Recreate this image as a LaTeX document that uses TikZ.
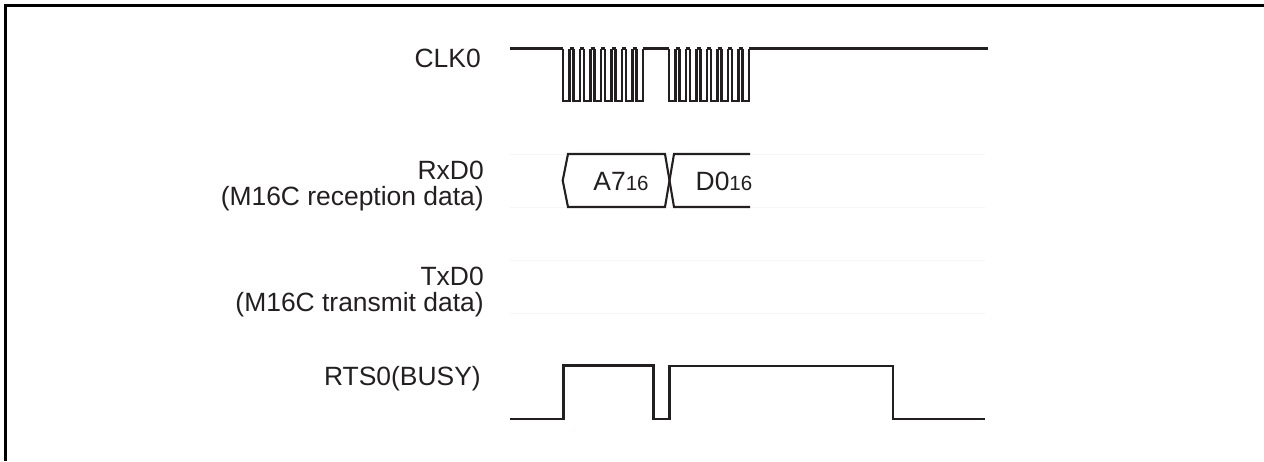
\documentclass[tikz,border=0pt]{standalone}
\usepackage{fontspec}
\setmainfont{Liberation Sans}
\definecolor{ink}{RGB}{35,31,32}
\definecolor{ghost}{RGB}{246,246,246}
\newcommand{\sub}[1]{{\fontsize{14.6}{17}\selectfont #1}}
\tikzset{
  sig/.style={draw=ink,line width=1.5pt,line join=miter},
  ghostline/.style={draw=ghost,line width=0.7pt},
  framel/.style={draw=black,line width=1.8pt},
  lbl/.style={font=\fontsize{18.8}{19}\selectfont,text=ink,align=right,inner sep=0pt},
  val/.style={font=\fontsize{18.8}{19.3}\selectfont,text=ink,inner sep=0pt},
}
\begin{document}
\begin{tikzpicture}[x=0.25mm,y=-0.25mm]
  \useasboundingbox (0,0) rectangle (1264,461);
  \draw[framel] (1264,5.5) -- (5.5,5.5) -- (5.5,461);

  % signal names
  \node[lbl,anchor=base east] (clk) at (481,67.5) {CLK0};
  \node[lbl,anchor=east] (rxd) at (484,186) {RxD0\\(M16C reception data)};
  \node[lbl,anchor=east] (txd) at (484,292) {TxD0\\(M16C transmit data)};
  \node[lbl,anchor=base east] (rts) at (481,385.5) {RTS0(BUSY)};

  % faint lines left over around the data rows
  \foreach \y in {154,207,260,313} \draw[ghostline] (510,\y) -- (985,\y);

  % clock: two bursts of eight pulses
  \draw[sig] (510,48.5) -- (563,48.5);
  \foreach \s in {563,669} {
    \foreach \i in {0,...,7} {
      \draw[sig] ({\s+10.5*\i},48.5) -- ({\s+10.5*\i},101) -- ({\s+10.5*\i+6.5},101)
        -- ({\s+10.5*\i+6.5},48.5);
      \ifnum\i<7 \draw[sig] ({\s+10.5*\i+6.5},48.5) -- ({\s+10.5*\i+10.5},48.5); \fi
    }
  }
  \draw[sig] (643,48.5) -- (669,48.5);
  \draw[sig] (749,48.5) -- (988,48.5);

  % received data
  \draw[sig] (669.5,180.5) -- (665,154) -- (568,154) -- (562.7,180.5) -- (568,207) -- (665,207) -- cycle;
  \draw[sig] (750,154) -- (674,154) -- (669.5,180.5) -- (674,207) -- (750,207);
  \node[val] (a7) at (621,181.5) {A7\sub{16}};
  \node[val] (d0) at (724,181.5) {D0\sub{16}};

  % busy
  \draw[sig] (510,418.7) -- (563.5,418.7) -- (563.5,365.5) -- (653.5,365.5) -- (653.5,418.7)
    -- (669.5,418.7) -- (669.5,366) -- (893.3,366) -- (893.3,418.7) -- (985,418.7);
\end{tikzpicture}
\end{document}
